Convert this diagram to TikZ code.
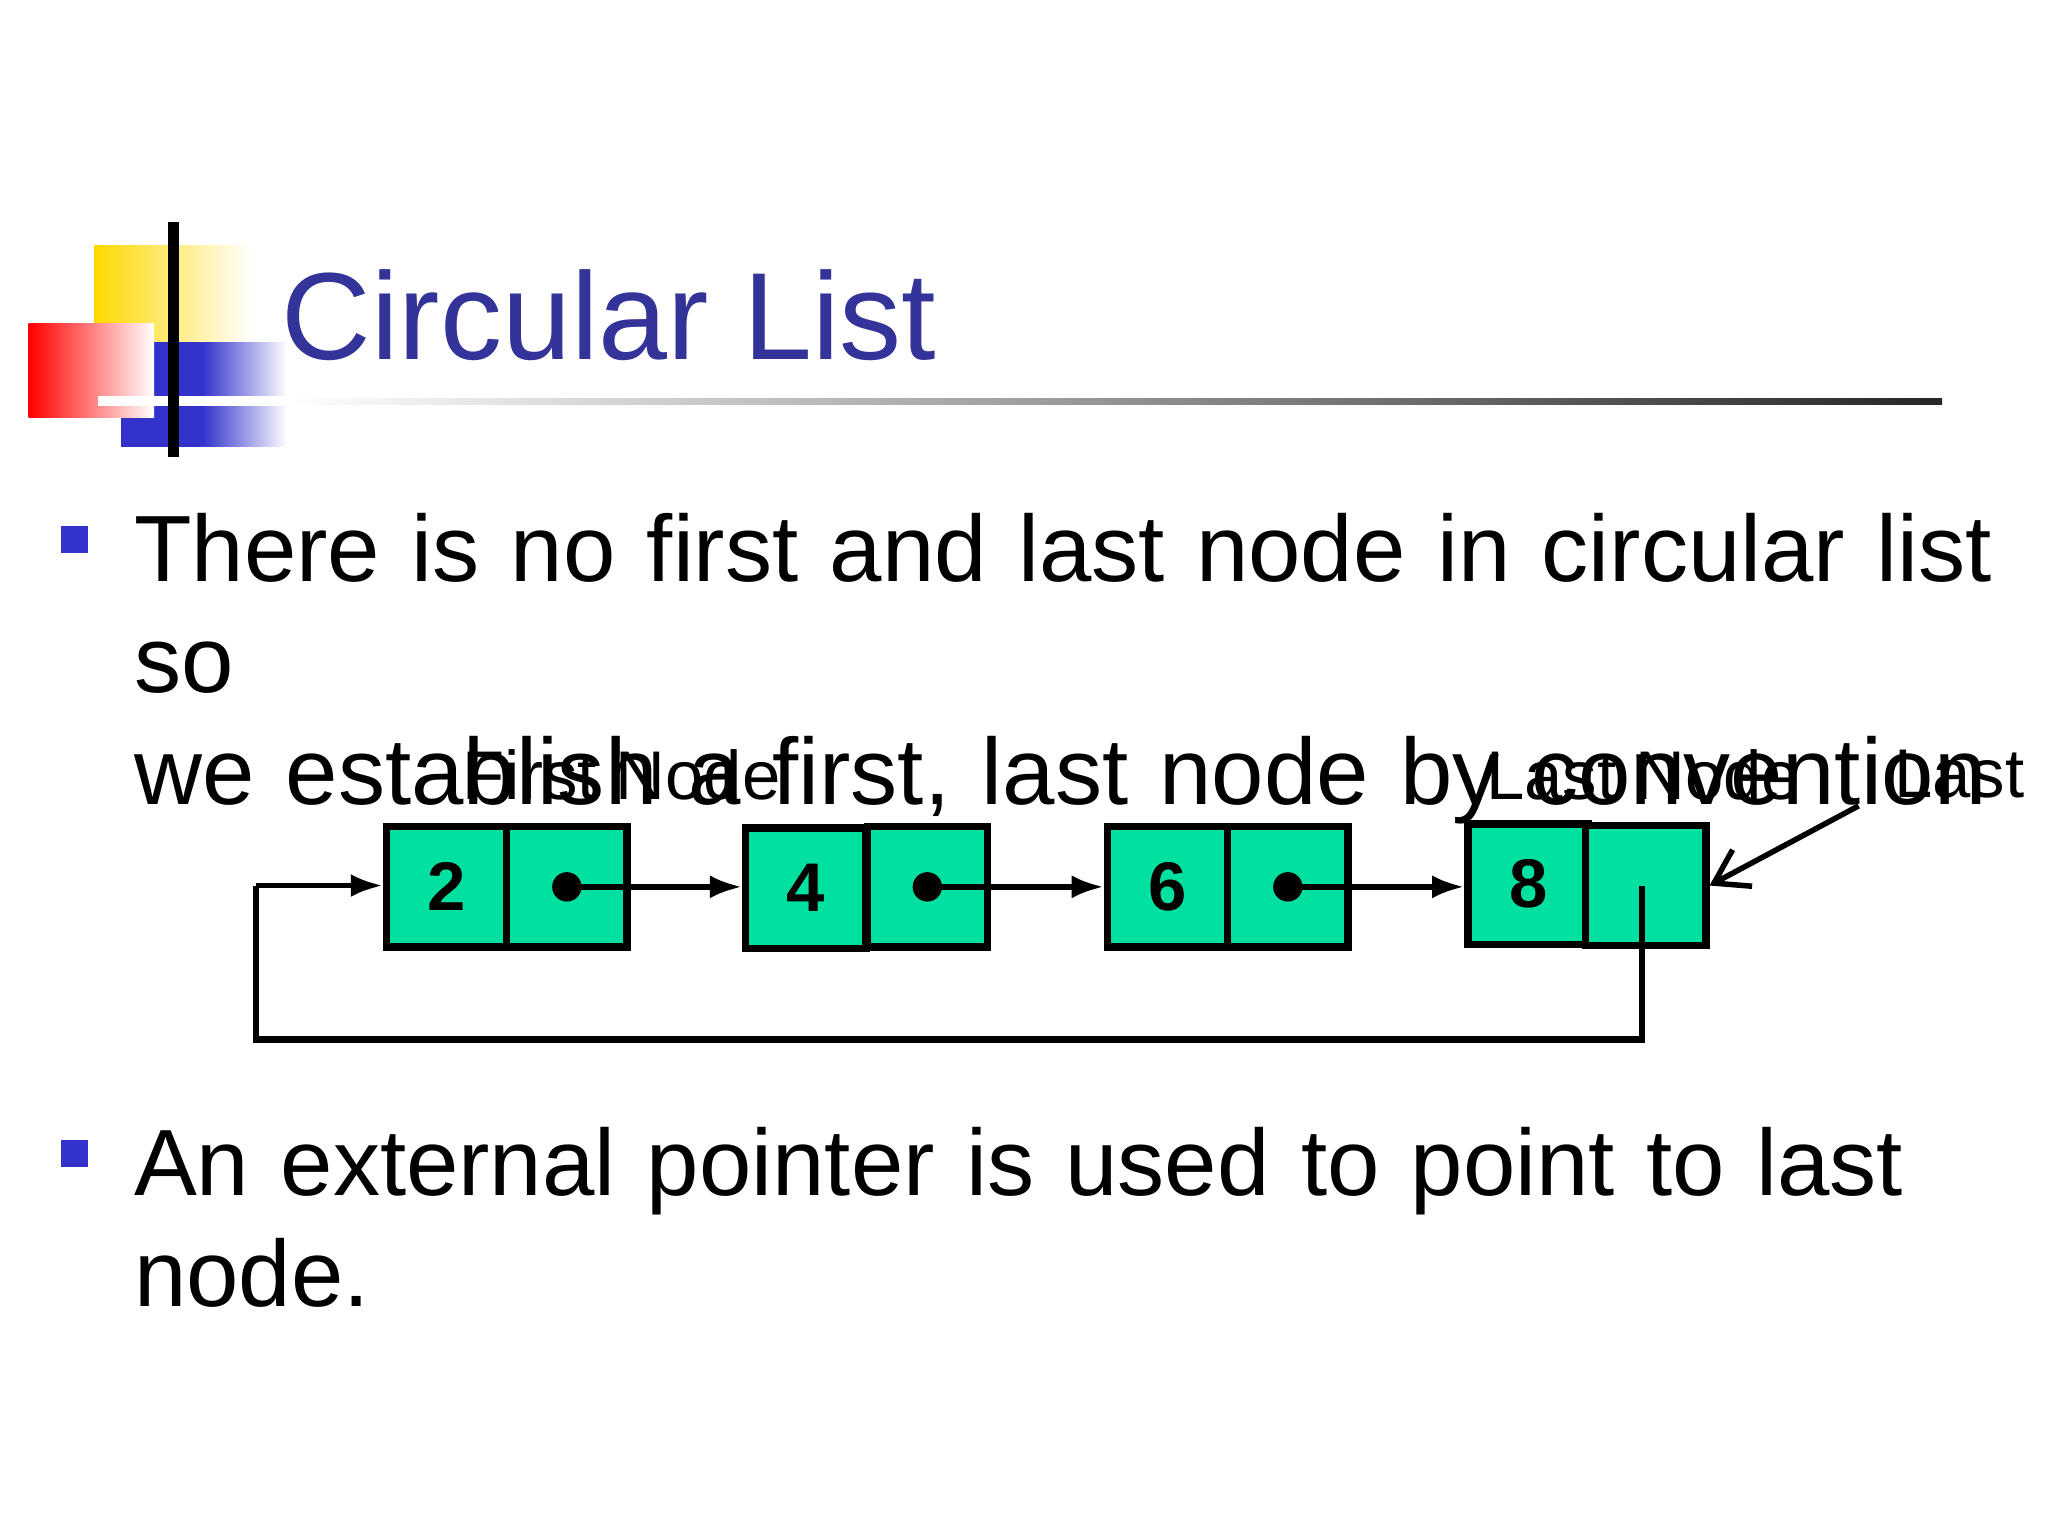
\documentclass[tikz,border=0pt]{standalone}
\usepackage{fontspec}
\setmainfont{Liberation Sans}
\usetikzlibrary{arrows.meta,shadings}
\definecolor{titleblue}{RGB}{51,51,153}
\definecolor{cellgreen}{RGB}{0,224,160}
\definecolor{bulletblue}{RGB}{51,51,204}
\begin{document}
\begin{tikzpicture}[x=0.01cm,y=-0.01cm,
  cell/.style={draw=black,line width=1.6pt,fill=cellgreen,minimum width=0.92cm,minimum height=0.92cm,inner sep=0pt,font=\fontsize{15}{18}\selectfont\bfseries},
  link/.style={line width=1.2pt,-{Latex[length=7pt,width=5pt]}},
  lbl/.style={font=\fontsize{15}{18}\selectfont,inner sep=0pt},
  body/.style={font=\fontsize{20.5}{24.3}\selectfont,anchor=north west,inner sep=0pt,align=left,text width=14.6cm},
  bullet/.style={fill=bulletblue,minimum size=0.21cm,inner sep=0pt}]
\useasboundingbox (0,0) rectangle (1568,1176);
\fill[white] (0,0) rectangle (1568,1176);
% logo
\shade[left color=yellow!70!orange,right color=white] (72,188) rectangle (193,262);
\shade[left color=bulletblue,right color=white] (155,262) rectangle (220,342);
\fill[bulletblue] (93,262) rectangle (155,342);
\shade[shading=axis,shading angle=45,left color=red,right color=white] (22,248) rectangle (118,320);
\draw[white,line width=2pt] (75,307) -- (220,307);
\draw[black,line width=2.5pt] (133,170) -- (133,350);
\shade[left color=white,right color=black!85] (220,305) rectangle (1487,310);
\node[anchor=base west,text=titleblue,font=\fontsize{27}{30}\selectfont,inner sep=0pt] (title) at (215,275) {Circular List};
% bullets
\node[bullet] (b1) at (57,413) {};
\node[body] (t1) at (102,392) {There is no first and last node in circular list so\\we establish a first, last node by convention};
\node[bullet] (b2) at (57,883) {};
\node[body] (t2) at (102,862) {An external pointer is used to point to last\\node.};
% cells
\node[cell] (d1) at (342,679) {2};
\node[cell] (p1) at (434,679) {};
\node[cell] (d2) at (617,680) {4};
\node[cell] (p2) at (710,679) {};
\node[cell] (d3) at (894,679) {6};
\node[cell] (p3) at (986,679) {};
\node[cell] (d4) at (1170,677) {8};
\node[cell] (p4) at (1260,678) {};
\fill (p1.center) circle (3.2pt);
\fill (p2.center) circle (3.2pt);
\fill (p3.center) circle (3.2pt);
\draw[link] (p1.center) -- (d2.west |- p1.center);
\draw[link] (p2.center) -- (d3.west |- p2.center);
\draw[link] (p3.center) -- (d4.west |- p3.center);
\coordinate (c1) at (1257,796);
\coordinate (c2) at (196,796);
\coordinate (c3) at (196,678);
\draw[line width=1.4pt] (1257,678) -- (c1) -- (c2) -- (c3);
\draw[link] (c3) -- (d1.west |- c3);
% labels
\node[lbl] (fn) at (476,593) {First Node};
\node[lbl] (ln) at (1258,593) {Last Node};
\node[lbl] (la) at (1500,593) {Last};
\coordinate (lp) at (1423,617);
\draw[line width=1.2pt,-{Straight Barb[length=7pt,width=9pt]}] (lp) -- (p4.east);
\end{tikzpicture}
\end{document}
